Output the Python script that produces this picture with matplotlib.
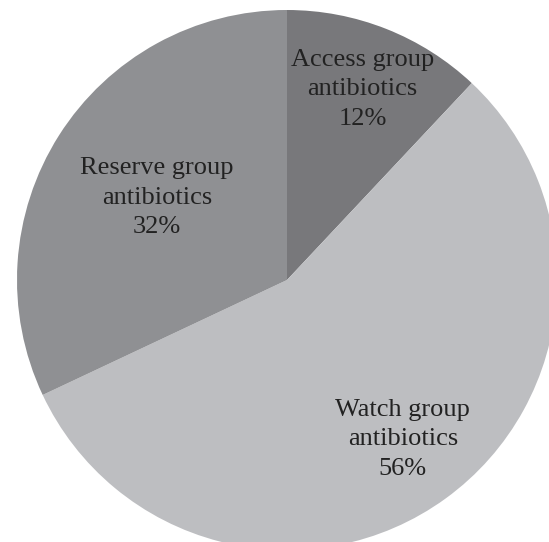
import numpy as np
import matplotlib.pyplot as plt

groups = ["Access group\nantibiotics", "Watch group\nantibiotics", "Reserve group\nantibiotics"]
shares = [12, 56, 32]
colors = ["#78787b", "#bdbec1", "#8f9093"]
label_dist = [0.76, 0.73, 0.57]

W, H = 549, 542
fig = plt.figure(figsize=(W / 100, H / 100), dpi=100)
ax = fig.add_axes([0, 0, 1, 1])

cx, cy, r = 287, H - 280, 270
wedges, _ = ax.pie(shares, colors=colors, startangle=90, counterclock=False,
                   center=(cx, cy), radius=r, frame=True,
                   wedgeprops=dict(linewidth=0))
ax.set_xlim(0, W)
ax.set_ylim(0, H)
ax.set_aspect('equal')
ax.axis('off')

for w, name, val, d in zip(wedges, groups, shares, label_dist):
    ang = np.deg2rad((w.theta1 + w.theta2) / 2)
    ax.text(cx + d * r * np.cos(ang), cy + d * r * np.sin(ang), f"{name}\n{val}%",
            ha='center', va='center', fontsize=19, family='Liberation Serif',
            color='#222222', linespacing=1.45)

fig.savefig('out.png', dpi=100)
